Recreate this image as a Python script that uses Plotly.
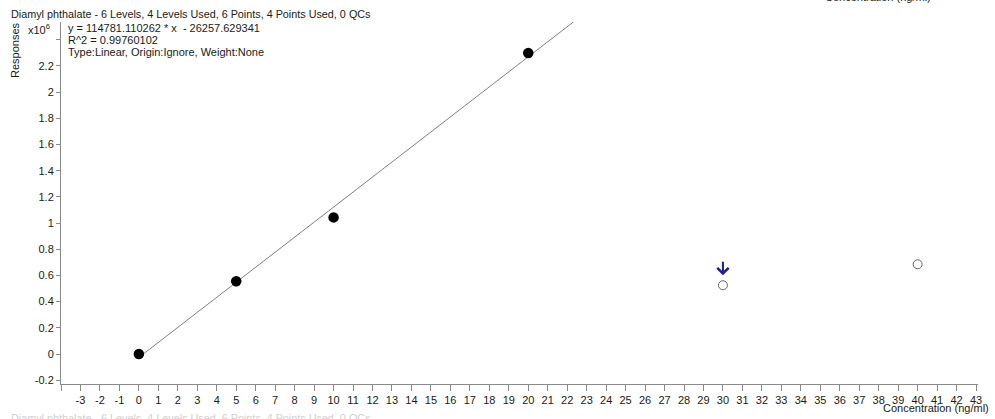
import plotly.graph_objects as go

# Calibration levels (ng/ml) and instrument responses
conc_used = [0, 5, 10, 20]
resp_used = [0, 556000, 1043000, 2298000]
conc_excluded = [30, 40]
resp_excluded = [525000, 685000]

# Linear fit reported by the quant software
slope = 114781.110262
intercept = -26257.629341
r_squared = 0.99760102

x_ticks = list(range(-4, 44))
x_tick_text = [""] + [str(v) for v in range(-3, 44)]
y_ticks = [-0.2, 0, 0.2, 0.4, 0.6, 0.8, 1, 1.2, 1.4, 1.6, 1.8, 2, 2.2, 2.4]
y_tick_text = ["-0.2", "0", "0.2", "0.4", "0.6", "0.8", "1", "1.2", "1.4", "1.6", "1.8", "2", "2.2", ""]

SCALE = 1e6
W, H = 995, 419
L, R, T, B = 61, 17, 22, 35
FONT = "Liberation Sans, Arial, sans-serif"
TXT = "#1a1a1a"


def px(x, y):
    """Page pixel -> paper coordinates."""
    return (x - L) / (W - L - R), (H - B - y) / (H - T - B)


fit_x = [0, 43]
fit_y = [(slope * v + intercept) / SCALE for v in fit_x]

fig = go.Figure()
fig.add_trace(go.Scatter(x=fit_x, y=fit_y, mode="lines",
                         line=dict(color="#808080", width=1), hoverinfo="skip"))
fig.add_trace(go.Scatter(x=conc_used, y=[v / SCALE for v in resp_used], mode="markers",
                         marker=dict(color="black", size=10.5, line=dict(width=0))))
fig.add_trace(go.Scatter(x=conc_excluded, y=[v / SCALE for v in resp_excluded], mode="markers",
                         marker=dict(color="white", size=9, line=dict(color="#666666", width=1))))

annotations = []


def add_text(x, y, text, size=11, color=TXT, xanchor="left", yanchor="middle", angle=0):
    ax, ay = px(x, y)
    annotations.append(dict(xref="paper", yref="paper", x=ax, y=ay, text=text,
                            showarrow=False, xanchor=xanchor, yanchor=yanchor,
                            textangle=angle, font=dict(family=FONT, size=size, color=color)))


TITLE = "Diamyl phthalate - 6 Levels, 4 Levels Used, 6 Points, 4 Points Used, 0 QCs"
add_text(9, 14, TITLE, size=10.8)
add_text(66, 28, "y = 114781.110262 * x  - 26257.629341")
add_text(66, 40, f"R^2 = {r_squared:.8f}")
add_text(66, 52, "Type:Linear, Origin:Ignore, Weight:None")
add_text(15, 50, "Responses", size=11, xanchor="center", angle=-90)
add_text(26, 29, "x10<sup>6</sup>")
add_text(991, 408, "Concentration (ng/ml)", xanchor="right")
# partially visible neighbouring panel captions
add_text(933, -3, "Concentration (ng/ml)", xanchor="right")
add_text(9, 418, TITLE, size=10.8, color="#cfcfcf")

# flag arrow over the excluded 30 ng/ml level
annotations.append(dict(x=conc_excluded[0], y=resp_excluded[0] / SCALE, xref="x", yref="y",
                        text="", showarrow=True, axref="pixel", ayref="pixel", ax=0, ay=-25,
                        arrowhead=4, arrowsize=1.1, arrowwidth=2, arrowcolor="#1c1c9c",
                        standoff=10))

axis_common = dict(showgrid=False, zeroline=False, showline=True, linecolor="#8a8a8a",
                   linewidth=1, ticks="outside", tickcolor="#8a8a8a", tickwidth=1,
                   tickfont=dict(family=FONT, size=11, color=TXT))

fig.update_layout(
    width=W, height=H, margin=dict(l=L, r=R, t=T, b=B),
    paper_bgcolor="white", plot_bgcolor="white", showlegend=False,
    xaxis=dict(range=[-4, 43.1], tickmode="array", tickvals=x_ticks, ticktext=x_tick_text,
               ticklen=6, **axis_common),
    yaxis=dict(range=[-0.229, 2.535], tickmode="array", tickvals=y_ticks, ticktext=y_tick_text,
               ticklen=4, **axis_common),
    annotations=annotations,
)

fig.write_html("out.html")
